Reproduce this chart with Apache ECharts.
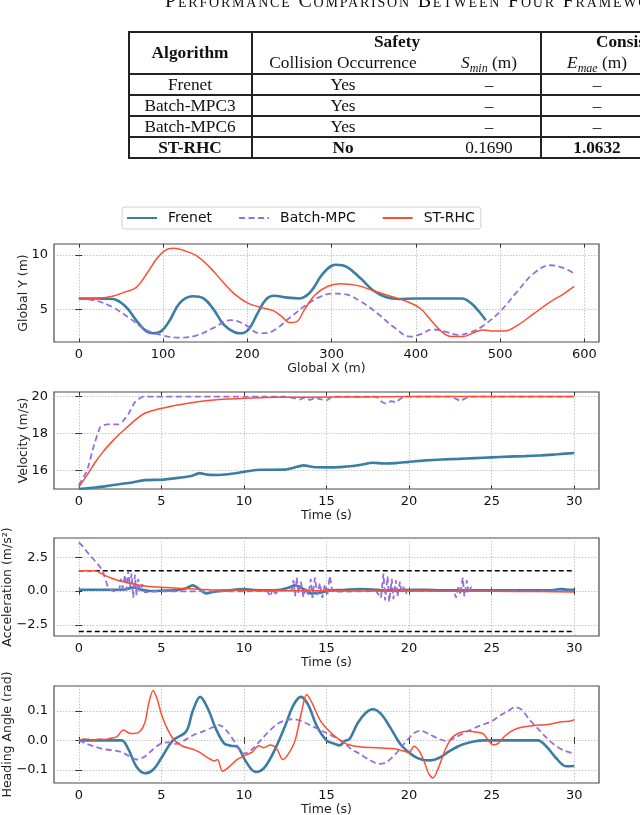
<!DOCTYPE html>
<html>
<head>
<meta charset="utf-8">
<script src="https://cdn.jsdelivr.net/npm/echarts@6/dist/echarts.min.js"></script>
<style>
html,body{margin:0;padding:0;width:640px;height:815px;overflow:hidden;background:#fff;}
#chart{position:absolute;left:0;top:0;width:640px;height:815px;}
#table{position:absolute;left:0;top:0;width:640px;height:170px;overflow:hidden;font-family:"Liberation Serif","Times New Roman",serif;color:#111;z-index:5;}
.t{position:absolute;white-space:nowrap;font-size:17.3px;transform:translateX(-50%);line-height:21px;}
.b{font-weight:bold;}
.hl{position:absolute;height:1.5px;background:#222;}
.vl{position:absolute;width:1.5px;background:#222;}
.title{position:absolute;left:165px;top:-11px;font-size:20px;line-height:23px;font-variant:small-caps;white-space:nowrap;letter-spacing:1.8px;}
</style>
</head>
<body>
<div id="chart"></div>
<div id="table"></div>
<script>
// ---------------- table data ----------------
const tableTitle = 'Performance Comparison Between Four Frameworks';
const algorithms = ['Frenet', 'Batch-MPC3', 'Batch-MPC6', 'ST-RHC'];
const collision = ['Yes', 'Yes', 'Yes', 'No'];
const sMin = ['–', '–', '–', '0.1690'];
const eMae = ['–', '–', '–', '1.0632'];

// ---------------- trajectory (Global X / Global Y) ----------------
const frenetPathX = [0,20,40,55,70,80,88,98,108,120,135,148,160,172,185,193,202,212,222,232,245,262,275,290,305,318,335,350,365,380,400,430,455,465,475,483];
const frenetPathY = [6.0,6.0,5.95,5.3,3.8,3.0,2.8,3.0,4.0,5.6,6.2,6.0,5.0,3.6,2.9,2.8,3.2,4.6,5.9,6.25,6.1,6.0,6.6,8.3,9.1,8.9,7.8,6.7,6.1,5.95,6.0,6.0,6.0,5.6,4.8,4.0];
const mpcPathX = [0,20,40,60,80,100,120,140,160,180,195,215,230,250,270,285,300,315,335,355,375,393,405,420,435,450,465,480,500,520,540,560,575,590];
const mpcPathY = [6.0,5.8,5.2,4.2,3.1,2.6,2.4,2.6,3.3,4.0,3.7,2.8,3.0,4.2,5.4,6.1,6.45,6.4,5.7,4.6,3.3,2.5,2.7,3.15,2.95,2.65,2.9,3.5,4.8,6.6,8.3,9.05,8.8,8.2];
const rhcPathX = [0,20,40,55,68,80,92,102,112,125,140,155,170,185,200,215,230,240,250,258,268,280,295,310,330,350,370,390,405,418,430,442,455,470,480,492,505,520,540,560,575,588];
const rhcPathY = [5.95,6.0,6.2,6.6,7.0,8.2,9.6,10.4,10.6,10.4,9.9,8.9,7.6,6.4,5.6,5.2,4.9,4.4,3.8,3.85,5.0,6.3,7.1,7.35,7.2,6.7,6.2,5.7,5.1,4.0,3.0,2.5,2.5,2.9,3.1,3.0,3.0,3.5,4.6,5.7,6.4,7.1];

// ---------------- velocity ----------------
const frenetVelT = [0,1,2,3,4,5,6,6.8,7.3,7.8,8.5,9.5,10.5,11,12.5,13,13.6,14.2,15,16,17,17.8,18.5,19.2,20,21,22,23,24,25,26,27,28,29,30];
const frenetVel = [15.0,15.08,15.2,15.32,15.48,15.5,15.6,15.7,15.86,15.78,15.76,15.85,16.0,16.04,16.05,16.15,16.28,16.19,16.17,16.2,16.3,16.42,16.38,16.4,16.47,16.55,16.6,16.63,16.67,16.71,16.75,16.78,16.82,16.88,16.95];
const mpcVelT = [0,0.5,0.9,1.3,1.7,2.4,2.7,3.0,3.4,3.9,12.5,13.0,13.4,13.7,14.0,14.3,14.7,15.0,15.3,15.6,18.0,18.3,18.6,18.9,19.2,19.5,19.8,22.5,22.8,23.1,23.4,23.7,30];
const mpcVel = [15.2,16.0,17.3,18.35,18.5,18.5,18.7,19.05,19.7,20.0,20.0,19.92,19.85,19.95,19.82,19.92,19.85,19.8,19.97,20.0,20.0,19.75,19.62,19.75,19.7,19.9,20.0,20.0,19.9,19.78,19.9,20.0,20.0];
const rhcVelT = [0,0.5,1,1.5,2,2.5,3,3.5,4,4.5,5,6,7,8,9,10,11,12,14,17,20,30];
const rhcVel = [15.1,15.75,16.45,17.05,17.55,18.0,18.4,18.8,19.1,19.25,19.36,19.55,19.7,19.8,19.87,19.91,19.94,19.96,19.97,19.98,20.0,20.0];

// ---------------- acceleration ----------------
const frenetAccT = [0,1,2,2.8,3.3,3.8,4.3,5,6,6.5,6.9,7.3,7.7,8.2,9,10,10.6,11.5,12.2,12.7,13.1,13.6,14.1,14.6,15.2,16,17,17.8,18.5,20,21,22,24,26,28.5,29.2,29.6,30];
const frenetAcc = [0.1,0.1,0.1,0.12,0.27,0.1,0.0,0.02,0.08,0.2,0.42,0.15,-0.17,-0.05,0.05,0.15,0.08,0.05,0.1,0.25,0.42,0.15,-0.18,-0.12,0.05,0.08,0.15,0.12,0.05,0.08,0.1,0.06,0.05,0.05,0.05,0.15,0.1,0.1];
const mpcAccT = [0,0.25,0.5,0.75,1.0,1.25,1.45,1.6,1.75,1.9,2.1,2.3,2.45,2.55,2.65,2.8,2.9,3.0,3.1,3.2,3.3,3.4,3.5,3.6,3.7,3.85,4.0,4.3,5.0,7,9,11.4,11.6,11.75,11.9,12.1,12.9,13.0,13.1,13.2,13.3,13.45,13.6,13.75,13.9,14.05,14.15,14.3,14.45,14.6,14.75,14.9,15.05,15.2,15.35,15.6,18.0,18.3,18.45,18.55,18.7,18.8,18.95,19.05,19.2,19.3,19.45,19.55,19.7,19.85,20.0,22.7,22.85,23.0,23.1,23.25,23.35,23.5,23.6,23.75,23.9,30];
const mpcAcc = [3.6,3.3,2.9,2.55,2.2,1.85,1.5,0.9,0.35,0.1,0.0,-0.05,0.05,0.9,0.2,1.2,0.1,1.5,0.3,1.3,-0.5,1.2,-0.3,0.9,0.0,0.5,-0.1,-0.05,-0.02,-0.03,-0.03,0.0,-0.4,0.2,-0.2,0.05,0.05,0.8,-0.4,1.0,-0.2,0.7,-0.45,0.3,-0.3,0.9,-0.5,1.0,-0.3,0.6,-0.5,0.5,-0.3,1.1,0.0,-0.05,0.0,-0.5,1.3,-0.7,1.1,-0.8,0.9,-0.6,0.8,-0.4,0.7,-0.2,0.4,-0.2,0.0,0.0,-0.5,0.4,-0.3,1.0,-0.4,0.8,-0.2,0.3,0.0,0.0];
const rhcAccT = [0,1.0,1.5,2,2.5,3,3.5,4,4.5,5,6,7,8,9,10,12,14,16,18,20,22,25,28,30];
const rhcAcc = [1.5,1.5,1.2,0.95,0.75,0.6,0.47,0.38,0.32,0.28,0.2,0.15,0.1,0.07,0.05,0.03,0.02,0.01,0.0,0.0,-0.01,-0.02,-0.04,-0.07];
const accLimitT = [0, 30];
const accUpper = [1.5, 1.5];
const accLower = [-3.0, -3.0];

// ---------------- heading angle ----------------
const frenetHeadT = [0,1,2,2.6,3.0,3.5,4.0,4.5,5.0,5.7,6.5,6.9,7.35,7.8,8.3,8.8,9.2,9.6,10.1,10.7,11.2,11.8,12.5,13.0,13.45,13.9,14.4,15.0,15.5,15.8,16.1,16.4,16.9,17.4,17.8,18.3,18.9,19.5,20.2,20.8,21.3,21.8,22.5,23.2,24,24.5,27.8,28.3,28.9,29.5,30];
const frenetHead = [0,0,0,0,-0.03,-0.09,-0.112,-0.1,-0.06,0.0,0.03,0.1,0.148,0.11,0.04,-0.01,-0.018,-0.022,-0.07,-0.107,-0.095,-0.04,0.05,0.12,0.148,0.12,0.05,0.0,-0.012,-0.017,-0.002,0.005,0.06,0.095,0.106,0.09,0.04,-0.015,-0.05,-0.066,-0.068,-0.06,-0.035,-0.015,-0.003,0.0,0.0,-0.02,-0.06,-0.088,-0.087];
const mpcHeadT = [0,0.5,1.0,1.5,2.0,2.5,3.0,3.5,4.0,4.5,5.0,5.4,5.9,6.4,7.0,7.5,8.0,8.5,9.0,9.5,10.0,10.5,11.0,11.5,12.0,12.5,13.0,13.5,14.0,15.0,16.0,16.5,17.0,17.5,18.2,18.6,19.2,19.8,20.3,20.7,21.2,21.8,22.3,22.8,23.5,24.3,25.0,25.6,26.0,26.4,26.8,27.3,27.8,28.3,28.8,29.4,30];
const mpcHead = [0,-0.012,-0.022,-0.03,-0.033,-0.038,-0.052,-0.065,-0.055,-0.03,-0.01,-0.007,-0.012,0.0,0.02,0.03,0.042,0.052,0.03,-0.01,-0.045,-0.03,0.0,0.03,0.055,0.068,0.072,0.065,0.052,0.025,-0.005,-0.03,-0.045,-0.063,-0.08,-0.075,-0.045,-0.005,0.025,0.033,0.022,0.005,-0.002,0.01,0.03,0.05,0.065,0.088,0.1,0.113,0.105,0.07,0.04,0.01,-0.015,-0.035,-0.045];
const rhcHeadT = [0,0.3,0.6,0.9,1.2,1.6,2.0,2.3,2.7,3.0,3.3,3.7,4.0,4.25,4.5,4.75,5.0,5.4,5.8,6.3,6.9,7.3,7.7,8.0,8.2,8.4,8.7,9.1,9.6,10.1,10.5,10.9,11.2,11.6,12.0,12.35,12.7,13.1,13.5,13.8,14.1,14.6,15.1,15.6,16.2,17.0,18.0,19.0,19.6,20.0,20.3,20.6,20.9,21.2,21.45,21.8,22.2,22.6,23.1,23.6,24.1,24.5,24.8,25.1,25.4,25.8,26.3,26.8,27.5,28.5,29.2,29.8,30];
const rhcHead = [0,0.005,0.004,0.0,0.005,0.003,0.008,0.012,0.035,0.026,0.023,0.03,0.06,0.13,0.17,0.14,0.09,0.035,0.0,-0.02,-0.03,-0.04,-0.055,-0.065,-0.07,-0.065,-0.105,-0.09,-0.065,-0.05,-0.04,-0.018,-0.025,-0.016,-0.03,-0.065,-0.045,0.0,0.1,0.156,0.13,0.07,0.035,0.01,-0.012,-0.022,-0.025,-0.028,-0.035,-0.041,-0.02,-0.035,-0.07,-0.115,-0.128,-0.09,-0.03,0.01,0.027,0.031,0.028,0.022,0.0,-0.015,-0.01,0.015,0.035,0.045,0.05,0.055,0.063,0.066,0.07];

// ---------------- ticks ----------------
const pathXTicks = [0,100,200,300,400,500,600];
const pathYTicks = [5,10];
const timeTicks = [0,5,10,15,20,25,30];
const velTicks = [16,18,20];
const accTicks = [-2.5,0,2.5];
const headTicks = [-0.1,0,0.1];
const seriesNames = ['Frenet','Batch-MPC','ST-RHC'];

// ---------------- build table ----------------
(function(){
  const T = document.getElementById('table');
  function add(cls, css, html){ const d=document.createElement('div'); d.className=cls; d.style.cssText=css; if(html!==undefined) d.innerHTML=html; T.appendChild(d); }
  add('title','',tableTitle);
  [32,74,95,116,137,158].forEach(function(y){ add('hl','left:128px;top:'+(y-0.75)+'px;width:520px;'); });
  [129,252,541].forEach(function(x){ add('vl','left:'+(x-0.75)+'px;top:32px;height:126.5px;'); });
  add('t b','left:190px;top:32px;line-height:42px;','Algorithm');
  add('t b','left:397px;top:31px;','Safety');
  add('t b','left:596px;top:31px;transform:none;','Consistency');
  add('t','left:343px;top:52px;','Collision Occurrence');
  add('t','left:489px;top:52px;','<i>S</i><sub style="font-size:12px;font-style:italic;">min</sub>&nbsp;(m)');
  add('t','left:597px;top:52px;','<i>E</i><sub style="font-size:12px;font-style:italic;">mae</sub>&nbsp;(m)');
  const rowTop = [74,95,116,137];
  for (let i=0;i<algorithms.length;i++){
    const last = i===algorithms.length-1;
    add('t'+(last?' b':''),'left:190px;top:'+rowTop[i]+'px;',algorithms[i]);
    add('t'+(last?' b':''),'left:343px;top:'+rowTop[i]+'px;',collision[i]);
    add('t','left:489px;top:'+rowTop[i]+'px;',sMin[i]);
    add('t'+(last?' b':''),'left:597px;top:'+rowTop[i]+'px;',eMae[i]);
  }
})();

// ---------------- chart ----------------
function zip(xs, ys){ return xs.map(function(x,i){ return [x, ys[i]]; }); }
function fmt1(v){ const s = Math.abs(v).toFixed(1); return v < -1e-9 ? '\u2212' + s : s; }

const COLORS = {frenet:'#3a7ea4', mpc:'#9370db', rhc:'#fd4d33'};
const FONT = 'DejaVu Sans';
const gridDefs = [
  {top:244, height:98},
  {top:392, height:97},
  {top:538, height:98},
  {top:686, height:97}
];
const grids = gridDefs.map(function(g){
  return {left:54, width:545, top:g.top, height:g.height, show:true, borderColor:'#4a4a4a', borderWidth:1.2, backgroundColor:'transparent', containLabel:false, outerBoundsMode:'none'};
});

const TICK = {show:true, inside:true, length:3.5, lineStyle:{color:'#333', width:1}};

function xAxis(idx, min, max, ticks, name, fmt){
  return {
    type:'value', gridIndex:idx, min:min, max:max, position:'bottom',
    name:name, nameLocation:'middle', nameGap:20, nameMoveOverlap:false,
    nameTextStyle:{fontFamily:FONT, fontSize:12.5, color:'#222'},
    axisLine:{show:false},
    axisTick:Object.assign({customValues:ticks}, TICK),
    axisLabel:{customValues:ticks, fontFamily:FONT, fontSize:13, color:'#111', margin:6, formatter:fmt || function(v){return String(v);}},
    splitLine:{show:true, lineStyle:{color:'#b8b8b8', type:[1.5,1.5], width:0.8}}
  };
}
function xAxisTop(idx, min, max, ticks){
  return {
    type:'value', gridIndex:idx, min:min, max:max, position:'top',
    axisLine:{show:false}, axisLabel:{show:false}, splitLine:{show:false},
    axisTick:Object.assign({customValues:ticks}, TICK)
  };
}
function yAxis(idx, min, max, ticks, name, gap, fmt){
  return {
    type:'value', gridIndex:idx, min:min, max:max, position:'left',
    name:name, nameLocation:'middle', nameGap:gap, nameRotate:90, nameMoveOverlap:false,
    nameTextStyle:{fontFamily:FONT, fontSize:12.5, color:'#222'},
    axisLine:{show:false},
    axisTick:Object.assign({customValues:ticks}, TICK),
    axisLabel:{customValues:ticks, fontFamily:FONT, fontSize:13, color:'#111', margin:6, formatter:fmt || function(v){return String(v);}},
    splitLine:{show:true, lineStyle:{color:'#b8b8b8', type:[1.5,1.5], width:0.8}}
  };
}
function yAxisRight(idx, min, max, ticks){
  return {
    type:'value', gridIndex:idx, min:min, max:max, position:'right',
    axisLine:{show:false}, axisLabel:{show:false}, splitLine:{show:false},
    axisTick:Object.assign({customValues:ticks}, TICK)
  };
}

function line(name, idx, data, kind, smooth){
  const base = {name:name, type:'line', xAxisIndex:idx, yAxisIndex:idx, data:data, symbol:'none', animation:false, smooth:smooth===undefined?0.35:smooth, clip:true};
  if (kind==='frenet') base.lineStyle = {color:COLORS.frenet, width:2.6};
  if (kind==='mpc') base.lineStyle = {color:COLORS.mpc, width:1.8, type:[6,3.5]};
  if (kind==='rhc') base.lineStyle = {color:COLORS.rhc, width:1.5};
  base.itemStyle = {color: base.lineStyle.color};
  return base;
}

const series = [
  line('Frenet',0,zip(frenetPathX,frenetPathY),'frenet',0.4),
  line('Batch-MPC',0,zip(mpcPathX,mpcPathY),'mpc',0.4),
  line('ST-RHC',0,zip(rhcPathX,rhcPathY),'rhc',0.4),

  line('Frenet',1,zip(frenetVelT,frenetVel),'frenet',0.2),
  line('Batch-MPC',1,zip(mpcVelT,mpcVel),'mpc',0.15),
  line('ST-RHC',1,zip(rhcVelT,rhcVel),'rhc',0.35),

  {name:'limit', type:'line', xAxisIndex:2, yAxisIndex:2, data:zip(accLimitT,accUpper), symbol:'none', animation:false, lineStyle:{color:'#000', width:1.6, type:[5,3]}, z:1},
  {name:'limit', type:'line', xAxisIndex:2, yAxisIndex:2, data:zip(accLimitT,accLower), symbol:'none', animation:false, lineStyle:{color:'#000', width:1.6, type:[5,3]}, z:1},
  line('Frenet',2,zip(frenetAccT,frenetAcc),'frenet',0.3),
  line('Batch-MPC',2,zip(mpcAccT,mpcAcc),'mpc',false),
  line('ST-RHC',2,zip(rhcAccT,rhcAcc),'rhc',0.3),

  line('Frenet',3,zip(frenetHeadT,frenetHead),'frenet',0.35),
  line('Batch-MPC',3,zip(mpcHeadT,mpcHead),'mpc',0.3),
  line('ST-RHC',3,zip(rhcHeadT,rhcHead),'rhc',0.3)
];

const option = {
  backgroundColor:'transparent',
  animation:false,
  legend:{
    data:seriesNames, left:122, top:207, orient:'horizontal',
    itemWidth:30, itemHeight:12, itemGap:26,
    padding:[4,6,4,4],
    borderColor:'#d0d0d0', borderWidth:1, borderRadius:3,
    itemStyle:{color:'rgba(0,0,0,0)', borderColor:'rgba(0,0,0,0)', borderWidth:0, opacity:0},
    textStyle:{fontFamily:FONT, fontSize:14, color:'#111', padding:[0,0,0,6]}
  },
  grid:grids,
  xAxis:[
    xAxis(0,-29.4,617.4,pathXTicks,'Global X (m)'),
    xAxis(1,-1.5,31.5,timeTicks,'Time (s)'),
    xAxis(2,-1.5,31.5,timeTicks,'Time (s)'),
    xAxis(3,-1.5,31.5,timeTicks,'Time (s)'),
    xAxisTop(0,-29.4,617.4,pathXTicks),
    xAxisTop(1,-1.5,31.5,timeTicks),
    xAxisTop(2,-1.5,31.5,timeTicks),
    xAxisTop(3,-1.5,31.5,timeTicks)
  ],
  yAxis:[
    yAxis(0,2.0,11.0,pathYTicks,'Global Y (m)',24),
    yAxis(1,15.0,20.25,velTicks,'Velocity (m/s)',24),
    yAxis(2,-3.33,3.93,accTicks,'Acceleration (m/s\u00B2)',40,fmt1),
    yAxis(3,-0.145,0.185,headTicks,'Heading Angle (rad)',40,fmt1),
    yAxisRight(0,2.0,11.0,pathYTicks),
    yAxisRight(1,15.0,20.25,velTicks),
    yAxisRight(2,-3.33,3.93,accTicks),
    yAxisRight(3,-0.145,0.185,headTicks)
  ],
  series:series
};

const chart = echarts.init(document.getElementById('chart'), null, {renderer:'canvas'});
chart.setOption(option);
</script>
</body>
</html>
